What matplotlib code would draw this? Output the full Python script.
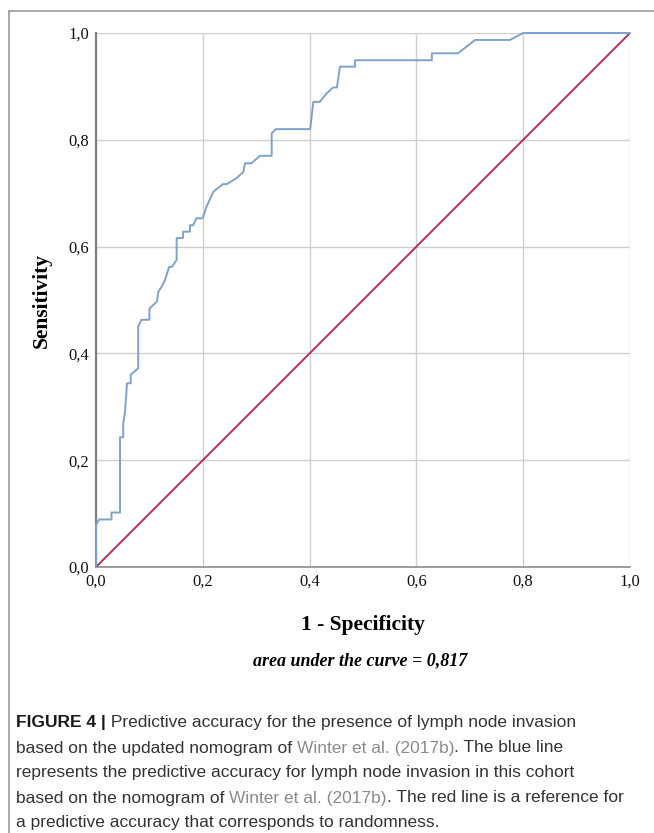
import matplotlib
matplotlib.use("Agg")
import matplotlib.pyplot as plt
from matplotlib.lines import Line2D

fpr = [0.000, 0.000, 0.006, 0.029, 0.029, 0.045, 0.045, 0.051, 0.051, 0.054,
       0.056, 0.058, 0.065, 0.065, 0.079, 0.079, 0.085, 0.100, 0.100, 0.114,
       0.117, 0.123, 0.129, 0.137, 0.142, 0.151, 0.151, 0.163, 0.163, 0.176,
       0.176, 0.182, 0.188, 0.200, 0.207, 0.220, 0.238, 0.245, 0.263, 0.276,
       0.279, 0.291, 0.307, 0.329, 0.329, 0.337, 0.401, 0.407, 0.419, 0.432,
       0.444, 0.451, 0.457, 0.485, 0.485, 0.629, 0.629, 0.678, 0.710, 0.775,
       0.800, 1.000]
tpr = [0.000, 0.079, 0.089, 0.089, 0.102, 0.102, 0.243, 0.243, 0.269, 0.288,
       0.313, 0.344, 0.344, 0.360, 0.372, 0.450, 0.463, 0.463, 0.484, 0.497,
       0.516, 0.525, 0.537, 0.562, 0.562, 0.575, 0.616, 0.616, 0.628, 0.628,
       0.640, 0.640, 0.653, 0.653, 0.675, 0.703, 0.717, 0.717, 0.728, 0.740,
       0.756, 0.756, 0.770, 0.770, 0.812, 0.820, 0.820, 0.871, 0.871, 0.887,
       0.898, 0.898, 0.937, 0.937, 0.949, 0.949, 0.962, 0.962, 0.987, 0.987,
       1.000, 1.000]
ref = [0.0, 1.0]
ticks = [0.0, 0.2, 0.4, 0.6, 0.8, 1.0]
tick_labels = ["0,0", "0,2", "0,4", "0,6", "0,8", "1,0"]
auc_text = "area under the curve = 0,817"

W, H = 654, 833
fig = plt.figure(figsize=(W / 100, H / 100), dpi=100)
fig.patch.set_facecolor("white")

# outer frame (left and top)
fig.add_artist(Line2D([9 / W, 9 / W], [0, 1 - 11 / H], transform=fig.transFigure,
                      color="#9a9a9a", lw=1.2))
fig.add_artist(Line2D([9 / W, 1], [1 - 11 / H, 1 - 11 / H], transform=fig.transFigure,
                      color="#9a9a9a", lw=1.2))

left, right, top, bottom = 96, 630, 33, 567
ax = fig.add_axes([left / W, 1 - bottom / H, (right - left) / W, (bottom - top) / H])
ax.set_xlim(0, 1)
ax.set_ylim(0, 1)
ax.set_xticks(ticks)
ax.set_yticks(ticks)
ax.set_xticklabels(tick_labels, fontfamily="Liberation Serif", fontsize=12, color="#111111")
ax.set_yticklabels(tick_labels, fontfamily="Liberation Serif", fontsize=12, color="#111111")
ax.tick_params(length=0, pad=5)
ax.grid(True, color="#cfcfcf", lw=1.0)
ax.set_axisbelow(True)
for s in ["top", "right"]:
    ax.spines[s].set_visible(False)
ax.spines["left"].set_color("#808080")
ax.spines["left"].set_linewidth(1.6)
ax.spines["bottom"].set_color("#8c8c8c")
ax.spines["bottom"].set_linewidth(1.2)

ax.plot(ref, ref, color="#b3305a", lw=1.4, zorder=3)
ax.plot(fpr, tpr, color="#7fa2c9", lw=1.4, zorder=4, clip_on=False)

ax.set_xlabel("1 - Specificity", fontfamily="Liberation Serif", fontweight="bold",
              fontsize=15.5, labelpad=18)
ax.set_ylabel("Sensitivity", fontfamily="Liberation Serif", fontweight="bold",
              fontsize=15.5, labelpad=12)

fig.text(360 / W, 1 - 661 / H, auc_text, fontfamily="Liberation Serif",
         fontweight="bold", fontstyle="italic", fontsize=13, ha="center", va="center")

# caption
dark = "#333333"
link = "#8a8a8a"
x0 = 16 / W
ys = [722, 748, 773, 798, 822]

def seq(y, parts):
    prev = None
    for txt, col, bold in parts:
        kw = dict(color=col, fontweight="bold" if bold else "normal",
                  fontfamily="Liberation Sans", fontsize=12.5, va="center", ha="left")
        if prev is None:
            prev = fig.text(x0, 1 - y / H, txt, **kw)
        else:
            prev = plt.annotate(txt, xy=(1, 0.5), xycoords=prev, xytext=(0, 0),
                                textcoords="offset points", annotation_clip=False, **kw)

seq(ys[0], [("FIGURE 4 |", "#1a1a1a", True),
            (" Predictive accuracy for the presence of lymph node invasion", dark, False)])
seq(ys[1], [("based on the updated nomogram of ", dark, False),
            ("Winter et al. (2017b)", link, False),
            (". The blue line", dark, False)])
seq(ys[2], [("represents the predictive accuracy for lymph node invasion in this cohort", dark, False)])
seq(ys[3], [("based on the nomogram of ", dark, False),
            ("Winter et al. (2017b)", link, False),
            (". The red line is a reference for", dark, False)])
seq(ys[4], [("a predictive accuracy that corresponds to randomness.", dark, False)])

fig.savefig("out.png", dpi=100, facecolor="white")
